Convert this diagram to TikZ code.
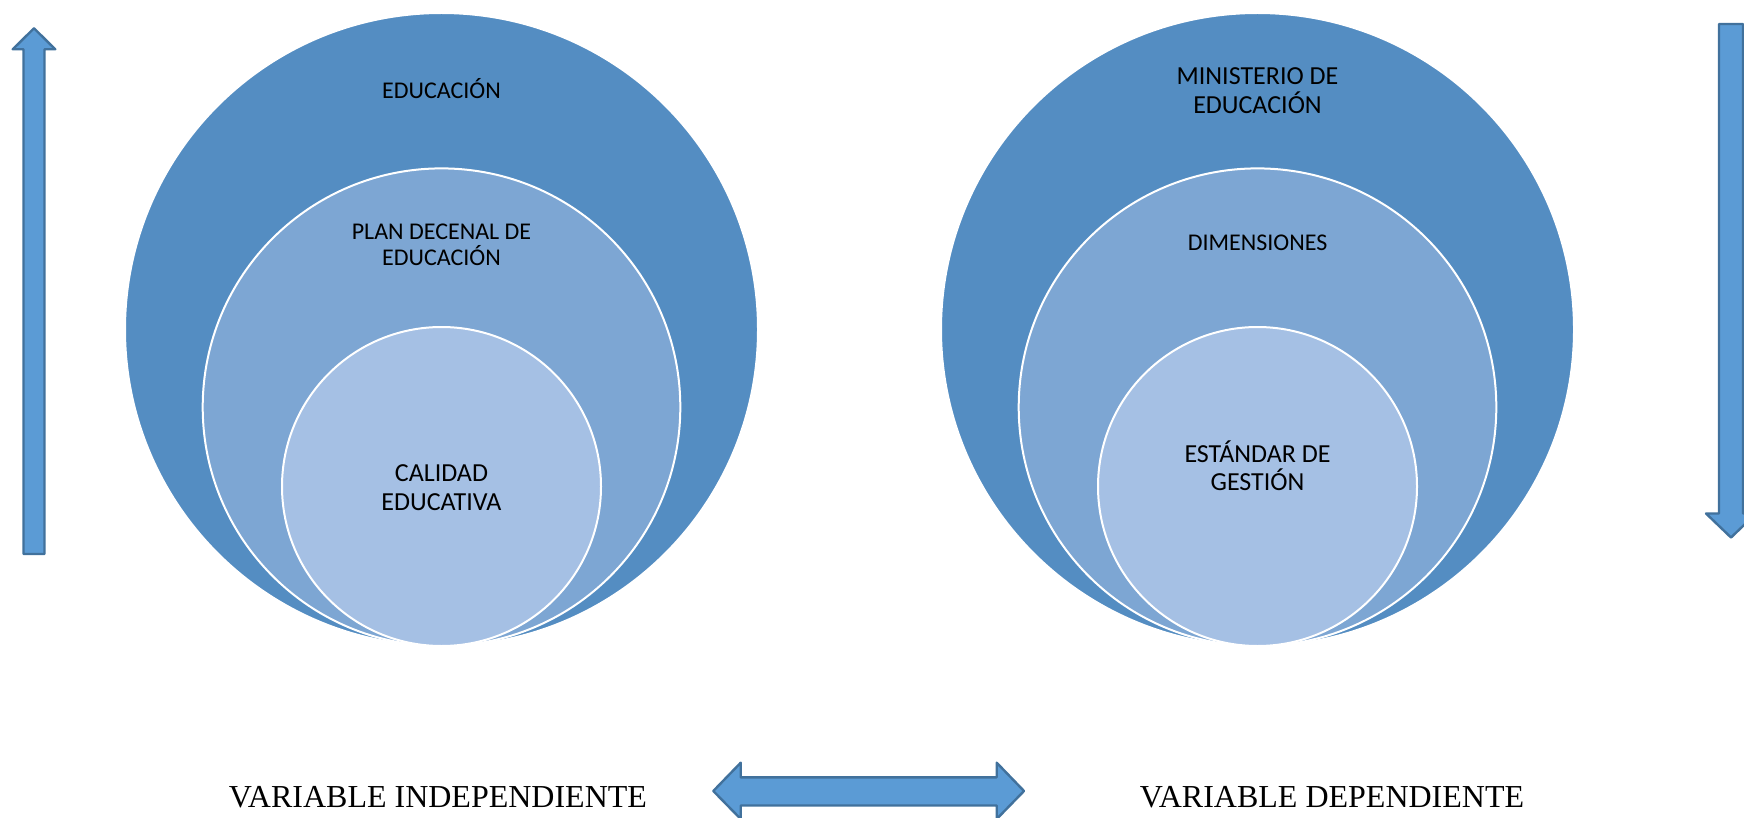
\documentclass[tikz,border=0pt]{standalone}
\usepackage{fontspec}
\setmainfont{Liberation Serif}
\newfontfamily\ringfont{Carlito}
\definecolor{ringA}{HTML}{548DC2}
\definecolor{ringB}{HTML}{7DA6D3}
\definecolor{ringC}{HTML}{A5C0E4}
\definecolor{arrowfill}{HTML}{5B9BD5}
\definecolor{arrowline}{HTML}{41719C}
\begin{document}
\begin{tikzpicture}[x=0.5pt,y=-0.5pt,line join=round,
		ring/.style={draw=white,line width=1pt},
		ringtext/.style={font=\ringfont\fontsize{12}{14.2}\selectfont,align=center,anchor=base,inner sep=0pt},
		bigtext/.style={ringtext,font=\ringfont\fontsize{13}{14.2}\selectfont},
		vartext/.style={font=\fontsize{16}{19}\selectfont,anchor=base,inner sep=0pt},
		blockarrow/.style={fill=arrowfill,draw=arrowline,line width=1.2pt}]
	\useasboundingbox (0,0) rectangle (1744,818);
	% variable independiente
	\draw[ring,fill=ringA] (441.5,329.5) circle (316.5);
	\draw[ring,fill=ringB] (441.5,407.2) circle (238.8);
	\draw[ring,fill=ringC] (441.5,486.5) circle (159.5);
	\node[ringtext] (edu) at (441.5,98.3) {EDUCACIÓN};
	\node[ringtext,font=\ringfont\fontsize{12}{12.85}\selectfont] (plan) at (441.5,265) {PLAN DECENAL DE\\EDUCACIÓN};
	\node[bigtext] (calidad) at (441.5,510) {CALIDAD\\EDUCATIVA};
	% variable dependiente
	\draw[ring,fill=ringA] (1257.5,329.5) circle (316.5);
	\draw[ring,fill=ringB] (1257.5,407.2) circle (238.8);
	\draw[ring,fill=ringC] (1257.5,486.5) circle (159.5);
	\node[bigtext] (ministerio) at (1257.5,113.3) {MINISTERIO DE\\EDUCACIÓN};
	\node[ringtext] (dimensiones) at (1257.5,250.7) {DIMENSIONES};
	\node[bigtext] (estandar) at (1257.5,490.7) {ESTÁNDAR DE\\GESTIÓN};
	% flechas
	\draw[blockarrow] (23.5,554)--(23.5,49.3)--(12.7,49.3)--(34,28.3)--(55.3,49.3)--(44.5,49.3)--(44.5,554)--cycle;
	\draw[blockarrow] (1719,24)--(1743,24)--(1743,513.5)--(1756,513.5)--(1731,537.5)--(1706,513.5)--(1719,513.5)--cycle;
	\draw[blockarrow] (713.3,791)--(740.7,762.7)--(740.7,777.3)--(996.7,777.3)--(996.7,762.7)--(1024,791)--(996.7,819)--(996.7,805.5)--(740.7,805.5)--(740.7,819)--cycle;
	\node[vartext] (indep) at (438,807.3) {VARIABLE INDEPENDIENTE};
	\node[vartext] (dep) at (1332,807.3) {VARIABLE DEPENDIENTE};
\end{tikzpicture}
\end{document}
